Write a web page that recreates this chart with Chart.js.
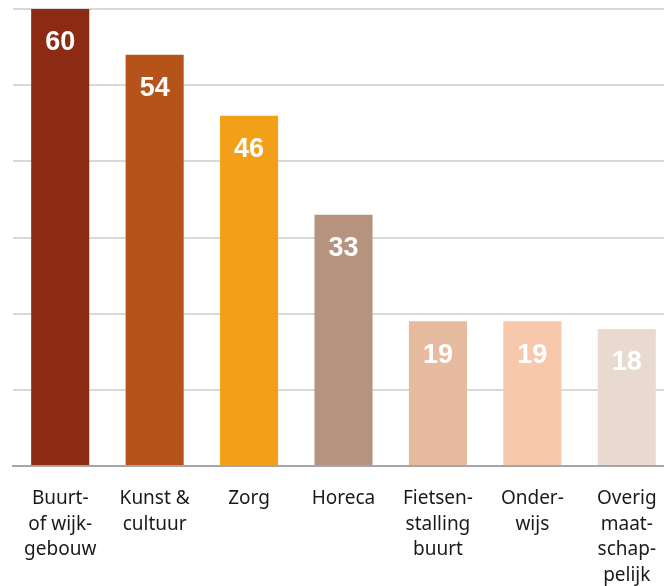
<!DOCTYPE html>
<html>
<head>
<meta charset="utf-8">
<script src="https://cdn.jsdelivr.net/npm/chart.js@4/dist/chart.umd.min.js"></script>
<style>
  html, body { margin: 0; padding: 0; background: #fff; overflow: hidden; }
  #wrap { width: 674px; height: 586px; }
</style>
</head>
<body>
<div id="wrap"><canvas id="chart" width="674" height="586"></canvas></div>
<script>
const categories = [
  ["Buurt-", "of wijk-", "gebouw"],
  ["Kunst &", "cultuur"],
  ["Zorg"],
  ["Horeca"],
  ["Fietsen-", "stalling", "buurt"],
  ["Onder-", "wijs"],
  ["Overig", "maat-", "schap-", "pelijk"]
];
const values = [60, 54, 46, 33, 19, 19, 18];
const barColors = ["#8C2A13", "#B5531B", "#F2A017", "#B5937E", "#E6BBA0", "#F7C8AC", "#E8D9D1"];

// waarden in de balk, bovenaan
const valueLabels = {
  id: "valueLabels",
  afterDatasetsDraw(chart) {
    const ctx = chart.ctx;
    const meta = chart.getDatasetMeta(0);
    ctx.save();
    ctx.fillStyle = "#ffffff";
    ctx.font = "bold 27px 'Liberation Sans', Arial, sans-serif";
    ctx.textAlign = "center";
    ctx.textBaseline = "middle";
    meta.data.forEach((bar, i) => {
      ctx.fillText(String(values[i]), bar.x, bar.y + 34);
    });
    ctx.restore();
  }
};

new Chart(document.getElementById("chart").getContext("2d"), {
  type: "bar",
  data: {
    labels: categories,
    datasets: [{
      data: values,
      backgroundColor: barColors,
      barPercentage: 0.615,
      categoryPercentage: 1
    }]
  },
  options: {
    responsive: false,
    animation: false,
    layout: { padding: { top: 9, left: 0, right: 0, bottom: 0 } },
    plugins: {
      legend: { display: false },
      tooltip: { enabled: false }
    },
    scales: {
      x: {
        grid: { display: false },
        border: { display: true, color: "#a6a6a6", width: 2 },
        ticks: {
          autoSkip: false,
          maxRotation: 0,
          padding: 12,
          color: "#1a1a1a",
          font: { family: "'Noto Sans', sans-serif", size: 19, lineHeight: 1.34 }
        },
        afterFit: scale => { scale.height = 120; }
      },
      y: {
        min: 0,
        max: 60,
        ticks: { display: false, stepSize: 10 },
        border: { display: false },
        grid: { color: "#d9d9d9", lineWidth: 2, drawTicks: false },
        afterFit: scale => { scale.width = 13; }
      }
    }
  },
  plugins: [valueLabels]
});
</script>
</body>
</html>
